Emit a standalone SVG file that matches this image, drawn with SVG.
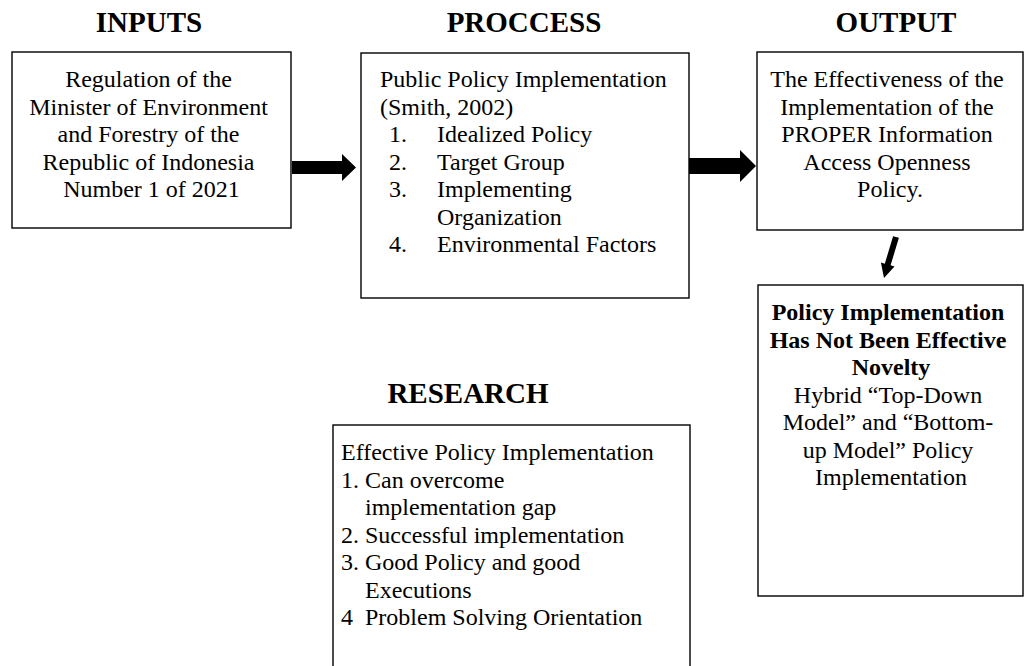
<svg xmlns="http://www.w3.org/2000/svg" width="1025" height="666" viewBox="0 0 1025 666">
  <style>
    .box { fill: #fff; stroke: #000; stroke-width: 1.4; }
    .title { font-family: "Liberation Serif", "Times New Roman", serif; font-weight: bold; font-size: 29px; fill: #000; text-anchor: middle; }
    .txt { font-family: "Liberation Serif", "Times New Roman", serif; font-size: 24px; fill: #000; }
    .c { text-anchor: middle; }
    .b { font-weight: bold; }
    .arrow { fill: #000; stroke: none; }
  </style>
  <rect width="1025" height="666" fill="#fff"/>

  <!-- section headings -->
  <g id="headings">
    <text class="title" x="149" y="32">INPUTS</text>
    <text class="title" x="524" y="32">PROCCESS</text>
    <text class="title" x="896" y="32">OUTPUT</text>
    <text class="title" x="468" y="403">RESEARCH</text>
  </g>

  <!-- connectors -->
  <g id="connectors">
    <polygon class="arrow" points="292,161 342,161 342,154 356,167.5 342,181 342,174 292,174"/>
    <polygon class="arrow" points="689,158 740,158 740,150 756,166 740,182 740,174 689,174"/>
    <polygon class="arrow" points="893.1,236.2 898.9,237.8 890.6,265.3 894.5,266.4 884,278 880.9,262.6 884.8,263.7"/>
  </g>

  <g id="inputs">
    <rect class="box" x="12" y="52" width="279" height="176"/>
    <text class="txt c" x="151.5">
      <tspan x="151.5" y="87">Regulation of the</tspan>
      <tspan x="151.5" y="114.5">Minister of Environment</tspan>
      <tspan x="151.5" y="142">and Forestry of the</tspan>
      <tspan x="151.5" y="169.5">Republic of Indonesia</tspan>
      <tspan x="151.5" y="197">Number 1 of 2021</tspan>
    </text>
  </g>

  <g id="process">
    <rect class="box" x="361" y="53" width="328" height="245"/>
    <text class="txt">
      <tspan x="380" y="87">Public Policy Implementation</tspan>
      <tspan x="380" y="114.5">(Smith, 2002)</tspan>
      <tspan x="389" y="142">1.</tspan><tspan x="437" y="142">Idealized Policy</tspan>
      <tspan x="389" y="169.5">2.</tspan><tspan x="437" y="169.5">Target Group</tspan>
      <tspan x="389" y="197">3.</tspan><tspan x="437" y="197">Implementing</tspan>
      <tspan x="437" y="224.5">Organization</tspan>
      <tspan x="389" y="252">4.</tspan><tspan x="437" y="252">Environmental Factors</tspan>
    </text>
  </g>

  <g id="output">
    <rect class="box" x="757" y="52" width="266" height="178"/>
    <text class="txt c">
      <tspan x="890" y="87">The Effectiveness of the</tspan>
      <tspan x="890" y="114.5">Implementation of the</tspan>
      <tspan x="890" y="142">PROPER Information</tspan>
      <tspan x="890" y="169.5">Access Openness</tspan>
      <tspan x="890" y="197">Policy.</tspan>
    </text>
  </g>

  <g id="novelty">
    <rect class="box" x="758" y="285" width="265" height="311"/>
    <text class="txt c b">
      <tspan x="891" y="320">Policy Implementation</tspan>
      <tspan x="891" y="347.5">Has Not Been Effective</tspan>
      <tspan x="891" y="375">Novelty</tspan>
    </text>
    <text class="txt c">
      <tspan x="891" y="402.5">Hybrid “Top-Down</tspan>
      <tspan x="891" y="430">Model” and “Bottom-</tspan>
      <tspan x="891" y="457.5">up Model” Policy</tspan>
      <tspan x="891" y="485">Implementation</tspan>
    </text>
  </g>

  <g id="research">
    <rect class="box" x="333" y="425" width="357" height="260"/>
    <text class="txt">
      <tspan x="341" y="460">Effective Policy Implementation</tspan>
      <tspan x="341" y="487.5">1.</tspan><tspan x="365" y="487.5">Can overcome</tspan>
      <tspan x="365" y="515">implementation gap</tspan>
      <tspan x="341" y="542.5">2.</tspan><tspan x="365" y="542.5">Successful implementation</tspan>
      <tspan x="341" y="570">3.</tspan><tspan x="365" y="570">Good Policy and good</tspan>
      <tspan x="365" y="597.5">Executions</tspan>
      <tspan x="341" y="625">4</tspan><tspan x="365" y="625">Problem Solving Orientation</tspan>
    </text>
  </g>
</svg>
